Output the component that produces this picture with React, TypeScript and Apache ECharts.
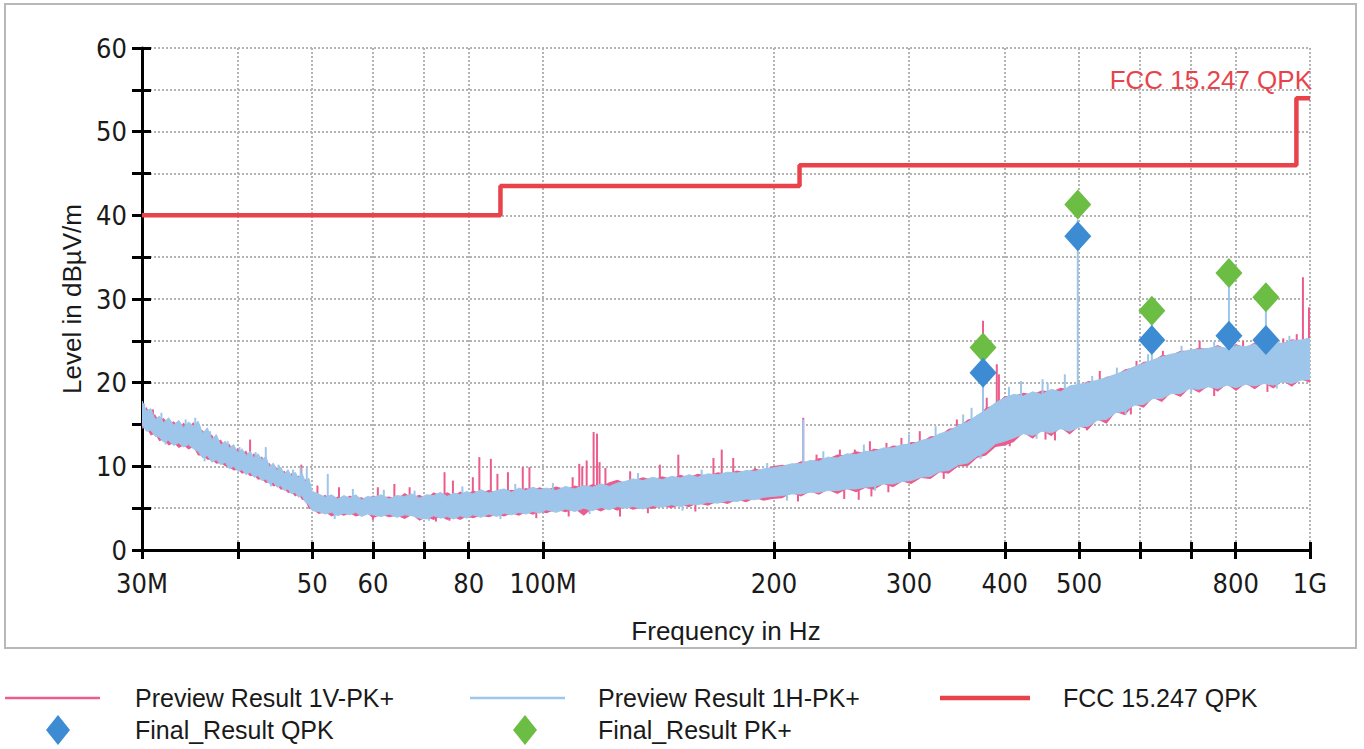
import React, { useEffect, useRef } from "react";
import * as echarts from "echarts";

// ---------- data (MHz / dBµV/m) ----------
const FREQ = [
  30, 30.4, 30.8, 31.2, 31.6, 32, 32.5, 33, 33.5, 34, 34.5, 35, 35.5, 36, 36.5, 37, 37.5, 38, 38.5, 39, 39.5, 40, 40.5, 41, 41.5, 42, 42.5, 43, 43.5, 44, 44.5, 45, 45.5, 46, 46.5, 47, 47.5, 48, 48.5, 49, 49.5, 50,
  51, 52, 53, 54, 55, 56, 57, 58, 59, 60, 61.5, 63, 64.5, 66, 67.5, 69, 70.5, 72, 73.5, 75, 76.5, 78, 79.5, 81, 83, 85, 87, 89, 91, 93, 95, 97, 99,
  101, 104, 107, 110, 113, 116, 119, 122, 125, 128, 131, 135, 139, 143, 147, 151, 155, 159, 164, 169, 174, 179, 184, 189, 194, 199,
  205, 211, 217, 223, 229, 235, 242, 249, 256, 263, 270, 278, 286, 294, 302, 311, 320, 329, 338, 348, 358, 368, 378, 389, 400,
  411, 423, 435, 447, 460, 473, 486, 500, 514, 528, 543, 558, 574, 590, 607, 624, 641, 659, 678, 697, 717, 737, 758, 779, 801, 824, 847, 871, 896, 921, 947, 973, 1000,
];

// Preview Result 1H-PK+ (light blue) envelope
const BLUE_HI = [
  17.8, 16.6, 16.9, 15.6, 16.0, 15.2, 15.8, 14.9, 15.5, 14.6, 15.3, 14.8, 15.4, 13.9, 14.6, 13.2, 13.8, 12.5, 13.0, 12.2, 12.6, 11.6, 12.1, 11.3, 11.8, 11.0, 11.5, 10.8, 11.2, 9.9, 10.4, 9.4, 9.9, 9.1, 9.6, 8.8, 9.3, 8.6, 9.2, 8.1, 8.6, 7.0,
  6.7, 6.3, 6.6, 6.1, 6.5, 6.2, 6.6, 6.0, 6.4, 6.3, 6.6, 6.1, 6.5, 6.4, 6.7, 6.2, 6.6, 6.5, 6.9, 6.4, 6.8, 6.6, 7.0, 6.7, 7.2, 6.8, 7.1, 7.3, 6.9, 7.4, 7.1, 7.5, 7.2,
  7.4, 7.1, 7.6, 7.3, 7.7, 7.5, 7.9, 7.6, 8.0, 8.2, 8.5, 8.3, 8.7, 8.4, 8.8, 8.6, 9.0, 8.7, 9.1, 9.0, 9.3, 9.2, 9.5, 9.4, 9.7, 9.8,
  10.0, 10.3, 10.3, 10.7, 10.6, 11.1, 11.0, 11.5, 11.4, 11.8, 11.8, 12.2, 12.2, 12.6, 12.6, 13.1, 13.3, 13.9, 14.2, 14.9, 15.3, 16.1, 16.7, 17.6, 18.2,
  18.6, 18.4, 18.9, 18.6, 19.2, 18.9, 19.6, 19.8, 20.0, 20.3, 20.6, 21.0, 21.4, 21.9, 22.3, 22.7, 23.1, 23.4, 23.6, 23.9, 24.0, 24.1, 24.3, 24.1, 24.4, 24.3, 24.6, 24.5, 24.8, 24.7, 25.0, 25.1, 25.3,
];

const BLUE_LO = [
  15.0, 14.2, 14.3, 13.6, 13.5, 12.9, 13.1, 12.5, 12.8, 12.3, 12.6, 12.1, 11.8, 11.0, 11.3, 10.5, 10.8, 10.2, 10.5, 9.7, 10.0, 9.4, 9.6, 9.0, 9.3, 8.7, 8.9, 8.3, 8.5, 7.9, 8.1, 7.5, 7.7, 7.1, 7.3, 6.7, 6.9, 6.3, 6.5, 5.7, 5.4, 4.7,
  4.6, 4.3, 4.5, 4.1, 4.4, 4.2, 4.5, 4.0, 4.3, 4.2, 4.0, 4.3, 3.9, 4.2, 4.1, 3.8, 3.7, 4.1, 3.8, 4.0, 3.7, 4.1, 3.8, 4.2, 3.9, 4.3, 4.0, 4.4, 4.2, 4.5, 4.3, 4.6, 4.4,
  4.8, 4.5, 4.9, 4.6, 5.0, 4.7, 5.1, 4.8, 5.2, 5.0, 5.2, 4.9, 5.3, 5.1, 5.4, 5.2, 5.5, 5.4, 5.7, 5.6, 5.9, 5.8, 6.1, 6.0, 6.3, 6.4,
  6.5, 6.7, 6.7, 6.9, 6.9, 7.1, 7.1, 7.3, 7.3, 7.5, 7.6, 7.9, 7.9, 8.2, 8.3, 8.7, 8.8, 9.4, 9.5, 10.2, 10.4, 11.2, 11.7, 12.7, 13.0,
  13.4, 13.9, 13.7, 14.2, 14.0, 14.5, 14.2, 14.7, 14.8, 15.5, 15.6, 16.4, 16.6, 17.3, 17.4, 18.1, 18.1, 18.7, 18.7, 19.3, 19.2, 19.5, 19.3, 19.7, 19.4, 19.8, 19.6, 19.9, 19.7, 20.1, 19.9, 20.3, 20.4,
];

// Preview Result 1V-PK+ (pink) envelope
const PINK_HI = [
  16.4, 17.1, 16.2, 16.2, 15.4, 15.8, 15.1, 15.4, 14.7, 15.2, 14.6, 15.3, 14.2, 14.3, 13.6, 13.8, 12.9, 13.2, 12.4, 12.7, 11.8, 12.2, 11.5, 11.9, 11.1, 11.6, 10.6, 11.2, 10.2, 10.4, 9.6, 9.9, 9.1, 9.5, 8.7, 9.2, 8.4, 8.9, 8.3, 8.5, 7.4, 6.9,
  6.2, 6.6, 6.0, 6.4, 6.1, 6.5, 6.2, 6.3, 6.0, 6.5, 6.3, 6.4, 6.1, 6.8, 6.3, 6.6, 6.2, 6.9, 6.5, 6.9, 6.5, 7.0, 6.6, 7.1, 6.8, 7.2, 6.8, 7.0, 7.2, 7.1, 7.4, 7.2, 7.5,
  7.2, 7.6, 7.3, 7.7, 7.4, 7.9, 7.6, 8.1, 8.4, 8.0, 8.3, 8.7, 8.4, 8.8, 8.5, 9.0, 8.7, 9.1, 8.9, 9.3, 9.1, 9.5, 9.3, 9.7, 9.5, 10.0,
  10.2, 10.1, 10.6, 10.5, 11.0, 10.9, 11.4, 11.3, 11.8, 11.6, 12.1, 12.0, 12.5, 12.4, 12.9, 12.9, 13.6, 13.7, 14.5, 14.7, 15.6, 15.9, 17.0, 17.4, 18.4,
  18.4, 18.8, 18.6, 19.1, 18.9, 19.4, 19.2, 19.7, 20.2, 20.1, 20.7, 20.9, 21.6, 21.8, 22.5, 22.6, 23.3, 23.3, 23.8, 23.8, 24.2, 24.0, 24.5, 24.0, 24.6, 24.2, 24.8, 24.4, 25.0, 24.6, 25.2, 25.0, 25.4,
];

const PINK_LO = [
  14.5, 14.6, 13.7, 13.9, 13.0, 13.2, 12.5, 12.8, 12.2, 12.5, 12.0, 12.3, 11.3, 11.3, 10.8, 10.8, 10.3, 10.4, 10.0, 9.9, 9.5, 9.6, 9.1, 9.3, 8.8, 8.9, 8.4, 8.5, 8.0, 8.1, 7.6, 7.7, 7.2, 7.3, 6.8, 6.9, 6.4, 6.6, 6.0, 5.9, 4.9, 4.9,
  4.3, 4.5, 4.0, 4.3, 4.1, 4.4, 4.0, 4.2, 4.4, 3.8, 4.2, 3.9, 4.1, 3.7, 4.2, 3.5, 3.9, 3.6, 4.0, 3.6, 3.9, 3.6, 4.0, 3.8, 4.1, 3.9, 4.2, 4.0, 4.4, 4.1, 4.5, 4.2, 4.6,
  4.4, 4.8, 4.5, 4.9, 4.1, 5.0, 4.6, 5.1, 4.7, 5.2, 4.8, 5.1, 4.9, 5.3, 5.0, 5.4, 5.1, 5.6, 5.3, 5.8, 5.5, 6.0, 5.7, 6.2, 5.9, 6.1,
  6.2, 6.8, 6.4, 7.0, 6.6, 7.2, 6.7, 7.3, 6.9, 7.4, 7.2, 7.9, 7.5, 8.2, 7.9, 8.6, 8.5, 9.3, 9.1, 10.0, 10.0, 11.0, 11.3, 12.3, 12.5,
  12.9, 14.0, 13.3, 14.3, 13.6, 14.6, 13.8, 14.8, 14.4, 15.6, 15.1, 16.5, 16.1, 17.4, 17.0, 18.2, 17.7, 18.8, 18.3, 19.4, 18.8, 19.6, 18.9, 19.8, 19.0, 19.9, 19.2, 20.0, 19.3, 20.2, 19.5, 20.4, 20.0,
];

// narrow peaks / dips of the pink trace: frequency, start level, end level
const PINK_SPIKE_F = [31.0, 33.3, 41.5, 48.4, 50.8, 54.2, 60.9, 64.0, 67.0, 74.4, 76.3, 81.0, 82.6, 85.5, 87.2, 90.0, 94.1, 96.0, 109.3, 111.5, 112.5, 114.0, 116.4, 117.6, 118.5, 120.6, 129.9, 142.0, 150.1, 166.8, 171.0, 177.0, 189.0, 218.4, 227.3, 243.8, 255.0, 266.8, 280.4, 293.3, 309.9, 346.4, 374.7, 378.9, 390.5, 393.0, 532, 594, 643, 718, 818, 923, 961, 979, 997,
  60, 72.5, 75.5, 98, 108, 126, 137, 158, 215, 247, 258, 268, 282, 333, 406, 452, 465, 512, 584, 750, 880];
const PINK_SPIKE_BASE = [15.0, 13.5, 10.0, 7.5, 5.5, 5.3, 5.3, 5.3, 5.3, 5.3, 5.3, 5.5, 5.5, 5.5, 5.5, 5.5, 5.6, 5.6, 6.0, 6.0, 6.0, 6.0, 6.0, 6.0, 6.0, 6.0, 6.3, 6.5, 6.6, 7.0, 7.0, 7.2, 7.5, 8.5, 8.8, 9.2, 9.5, 9.7, 10.0, 10.5, 11.0, 12.0, 14.0, 14.0, 14.5, 14.5, 17.5, 19.0, 20.0, 21.0, 21.0, 21.5, 21.5, 21.5, 21.5,
  5.0, 5.0, 5.0, 5.5, 5.5, 6.0, 6.0, 6.5, 8.0, 8.5, 8.5, 9.0, 9.5, 11.0, 15.0, 16.0, 16.0, 17.0, 18.5, 21.0, 21.5];
const PINK_SPIKE_TOP = [16.8, 15.3, 13.2, 10.2, 7.7, 7.5, 7.5, 7.9, 7.5, 9.3, 8.3, 8.7, 11.1, 10.9, 9.1, 9.3, 9.9, 9.9, 8.7, 10.3, 10.0, 10.7, 14.1, 13.9, 10.5, 9.8, 9.4, 10.2, 11.4, 11.0, 12.0, 11.0, 9.8, 15.8, 11.4, 12.0, 12.0, 13.0, 12.8, 13.4, 14.2, 15.6, 27.4, 18.2, 22.2, 21.0, 21.4, 22.6, 23.8, 25.0, 25.0, 25.3, 25.8, 32.6, 29.0,
  3.6, 3.4, 3.5, 3.8, 4.0, 4.0, 4.4, 4.6, 5.8, 6.1, 6.0, 6.4, 6.9, 8.5, 12.4, 13.2, 13.1, 14.3, 16.2, 18.4, 18.9];

// narrow peaks / dips of the light blue trace
const BLUE_SPIKE_F = [43.5, 48.3, 52.4, 218.4, 374.7, 420, 448, 479, 498, 622, 784, 876,
  30.2, 31.8, 34.2, 35.2, 36.8, 38.8, 40.2, 42.2, 45.2, 47.2, 49.2, 56.5, 62, 68, 78.5, 92, 103, 133, 161, 196, 232, 262, 300, 325, 353, 362, 405, 455, 520, 560, 615, 680, 750, 860, 940,
  32.2, 36.2, 44.2, 53.5, 71, 88, 115, 152, 208, 271, 372, 440, 575, 700, 905];
const BLUE_SPIKE_BASE = [9.5, 7.5, 5.5, 8.5, 15.0, 16.0, 16.5, 16.5, 16.5, 19.0, 21.0, 21.5,
  15.5, 14.5, 13.5, 13.5, 12.0, 11.0, 10.5, 9.5, 8.5, 7.5, 7.0, 5.0, 5.0, 5.0, 5.2, 5.5, 6.0, 6.5, 7.0, 8.0, 9.0, 9.5, 10.5, 11.5, 13.0, 13.0, 15.5, 16.5, 17.0, 18.0, 20.0, 21.0, 21.5, 22.0, 22.0,
  14.0, 12.0, 9.0, 5.0, 5.0, 5.2, 6.0, 6.5, 8.0, 9.0, 13.0, 15.5, 18.5, 20.5, 21.5];
const BLUE_SPIKE_TOP = [12.3, 9.9, 9.1, 15.6, 22.0, 20.2, 20.4, 21.0, 39.5, 27.5, 32.5, 29.5,
  17.5, 16.4, 15.6, 15.8, 14.2, 13.0, 12.3, 11.7, 10.2, 9.6, 9.8, 7.3, 7.2, 7.1, 7.6, 7.9, 8.0, 9.2, 9.6, 10.4, 11.8, 12.6, 13.8, 14.8, 16.2, 17.0, 19.5, 20.0, 20.8, 21.8, 23.4, 24.4, 24.9, 25.2, 25.6,
  12.6, 10.6, 7.6, 3.7, 3.5, 3.7, 4.3, 4.7, 5.9, 7.1, 10.9, 13.3, 16.2, 18.8, 19.3];

// FCC 15.247 QPK limit
const LIMIT_F = [30, 88, 88, 216, 216, 960, 960, 1000];
const LIMIT_V = [40, 40, 43.5, 43.5, 46, 46, 54, 54];

// final measurements
const FINAL_F = [374.7, 498, 622, 784, 876];
const FINAL_QPK = [21.2, 37.5, 25.1, 25.6, 25.1];
const FINAL_PK = [24.2, 41.3, 28.6, 33.1, 30.2];

// axis ticks
const X_TICKS = [30, 40, 50, 60, 70, 80, 100, 200, 300, 400, 500, 600, 700, 800, 1000];
const X_LABELS = [30, 50, 60, 80, 100, 200, 300, 400, 500, 800, 1000];

// ---------- styles ----------
const PINK = "#ec5c8c";
const LIGHT_BLUE = "#9dc6ea";
const RED = "#e8434b";
const QPK_BLUE = "#3c8bd3";
const PK_GREEN = "#6cbd43";
const GRID_GRAY = "#b4b4b4";
const FONT = '"Liberation Sans", Arial, sans-serif';
const FONT_NARROW = '"Liberation Sans Narrow", "DejaVu Sans Condensed", sans-serif';

function bandSeries(name: string, hi: number[], lo: number[], color: string, z: number, stroke: boolean) {
  return {
    type: "custom",
    name,
    z,
    silent: true,
    clip: true,
    data: FREQ.map((f, i) => [f, lo[i], hi[i]]),
    encode: { x: 0, y: [1, 2] },
    renderItem: (params: any, api: any) => {
      if (params.dataIndex !== 0) return null;
      const top = FREQ.map((f, i) => api.coord([f, hi[i]]));
      const bottom = FREQ.map((f, i) => api.coord([f, lo[i]])).reverse();
      return {
        type: "polygon",
        shape: { points: top.concat(bottom) },
        style: stroke ? { fill: color, stroke: color, lineWidth: 1 } : { fill: color },
      };
    },
  };
}

function spikeSeries(name: string, fs: number[], base: number[], top: number[], color: string, z: number, w: number) {
  return {
    type: "custom",
    name,
    z,
    silent: true,
    clip: true,
    data: fs.map((f, i) => [f, base[i], top[i]]),
    encode: { x: 0, y: [1, 2] },
    renderItem: (params: any, api: any) => {
      const p1 = api.coord([api.value(0), api.value(1)]);
      const p2 = api.coord([api.value(0), api.value(2)]);
      return {
        type: "line",
        shape: { x1: p1[0], y1: p1[1], x2: p2[0], y2: p2[1] },
        style: { stroke: color, lineWidth: w },
      };
    },
  };
}

function xLabel(v: number) {
  const r = Math.round(v);
  if (r === 30) return "30M";
  if (r === 100) return "100M";
  if (r === 1000) return "1G";
  return String(r);
}

function legendText(text: string, x: number, y: number) {
  return {
    type: "text",
    x,
    y,
    style: { text, fill: "#1a1a1a", fontSize: 25, fontFamily: FONT, align: "left", verticalAlign: "middle" },
  };
}

export default function App() {
  const ref = useRef<HTMLDivElement>(null);

  useEffect(() => {
    if (!ref.current) return;
    const chart = echarts.init(ref.current, null, { renderer: "svg" });

    const option: any = {
      animation: false,
      backgroundColor: "#ffffff",
      grid: { left: 142, right: 54, top: 48, bottom: 199, containLabel: false },
      xAxis: [
        {
          type: "log",
          logBase: 10,
          min: 30,
          max: 1000,
          position: "bottom",
          name: "Frequency in Hz",
          nameLocation: "middle",
          nameGap: 68,
          nameTextStyle: { fontSize: 26, fontFamily: FONT, color: "#1a1a1a" },
          axisLine: { show: true, onZero: false, lineStyle: { color: "#000", width: 3 } },
          axisTick: { show: true, inside: false, length: 9, customValues: X_TICKS, lineStyle: { color: "#000", width: 3 } },
          minorTick: { show: false },
          axisLabel: {
            show: true,
            customValues: X_LABELS,
            margin: 20,
            fontSize: 27,
            fontFamily: FONT_NARROW,
            color: "#1a1a1a",
            formatter: xLabel,
          },
          splitLine: { show: true, lineStyle: { color: GRID_GRAY, width: 2, type: [2, 2] } },
        },
        {
          type: "log",
          logBase: 10,
          min: 30,
          max: 1000,
          position: "bottom",
          axisLine: { show: false },
          axisTick: { show: true, inside: true, length: 8, customValues: X_TICKS, lineStyle: { color: "#000", width: 3 } },
          axisLabel: { show: false },
          splitLine: { show: false },
        },
      ],
      yAxis: [
        {
          type: "value",
          min: 0,
          max: 60,
          interval: 5,
          position: "left",
          name: "Level in dBµV/m",
          nameLocation: "middle",
          nameGap: 57,
          nameRotate: 90,
          nameTextStyle: { fontSize: 26, fontFamily: FONT, color: "#1a1a1a" },
          axisLine: { show: true, onZero: false, lineStyle: { color: "#000", width: 3 } },
          axisTick: { show: true, inside: false, length: 10, lineStyle: { color: "#000", width: 3 } },
          axisLabel: {
            margin: 15,
            fontSize: 27,
            fontFamily: FONT_NARROW,
            color: "#1a1a1a",
            formatter: (v: number) => (Math.round(v) % 10 === 0 ? String(Math.round(v)) : ""),
          },
          splitLine: { show: true, lineStyle: { color: GRID_GRAY, width: 2, type: [2, 2] } },
        },
        {
          type: "value",
          min: 0,
          max: 60,
          interval: 5,
          position: "left",
          axisLine: { show: false },
          axisTick: { show: true, inside: true, length: 9, lineStyle: { color: "#000", width: 3 } },
          axisLabel: { show: false },
          splitLine: { show: false },
        },
      ],
      series: [
        bandSeries("Preview Result 1V-PK+", PINK_HI, PINK_LO, PINK, 2, false),
        spikeSeries("pink peaks", PINK_SPIKE_F, PINK_SPIKE_BASE, PINK_SPIKE_TOP, PINK, 2, 2),
        bandSeries("Preview Result 1H-PK+", BLUE_HI, BLUE_LO, LIGHT_BLUE, 3, true),
        spikeSeries("blue peaks", BLUE_SPIKE_F, BLUE_SPIKE_BASE, BLUE_SPIKE_TOP, LIGHT_BLUE, 3, 2),
        {
          type: "line",
          name: "FCC 15.247 QPK",
          z: 4,
          data: LIMIT_F.map((f, i) => [f, LIMIT_V[i]]),
          showSymbol: false,
          symbol: "none",
          lineStyle: { color: RED, width: 4.5 },
          silent: true,
        },
        {
          type: "scatter",
          name: "Final_Result PK+",
          z: 5,
          symbol: "diamond",
          symbolSize: [27, 30],
          data: FINAL_F.map((f, i) => [f, FINAL_PK[i]]),
          itemStyle: { color: PK_GREEN, opacity: 1 },
        },
        {
          type: "scatter",
          name: "Final_Result QPK",
          z: 6,
          symbol: "diamond",
          symbolSize: [27, 30],
          data: FINAL_F.map((f, i) => [f, FINAL_QPK[i]]),
          itemStyle: { color: QPK_BLUE, opacity: 1 },
        },
      ],
      graphic: [
        {
          type: "rect",
          shape: { x: 5, y: 4, width: 1351, height: 644 },
          style: { fill: "none", stroke: "#b8b8b8", lineWidth: 2 },
          silent: true,
          z: -1,
        },
        {
          type: "text",
          x: 1312,
          y: 80,
          style: { text: "FCC 15.247 QPK", fill: RED, fontSize: 26, fontFamily: FONT, align: "right", verticalAlign: "middle" },
          z: 10,
        },
        // legend row 1
        { type: "line", shape: { x1: 5, y1: 698, x2: 100, y2: 698 }, style: { stroke: PINK, lineWidth: 2.5 } },
        legendText("Preview Result 1V-PK+", 135, 698),
        { type: "line", shape: { x1: 470, y1: 698, x2: 565, y2: 698 }, style: { stroke: LIGHT_BLUE, lineWidth: 2.5 } },
        legendText("Preview Result 1H-PK+", 598, 698),
        { type: "line", shape: { x1: 940, y1: 698, x2: 1030, y2: 698 }, style: { stroke: RED, lineWidth: 4.5 } },
        legendText("FCC 15.247 QPK", 1063, 698),
        // legend row 2
        { type: "polygon", shape: { points: [[58, 715], [70, 730], [58, 745], [46, 730]] }, style: { fill: QPK_BLUE } },
        legendText("Final_Result QPK", 135, 730),
        { type: "polygon", shape: { points: [[525, 715], [537, 730], [525, 745], [513, 730]] }, style: { fill: PK_GREEN } },
        legendText("Final_Result PK+", 598, 730),
      ],
    };

    chart.setOption(option);
    return () => {
      chart.dispose();
    };
  }, []);

  return (
    <div
      ref={ref}
      style={{ position: "fixed", left: 0, top: 0, width: 1364, height: 749, background: "#fff" }}
    />
  );
}
